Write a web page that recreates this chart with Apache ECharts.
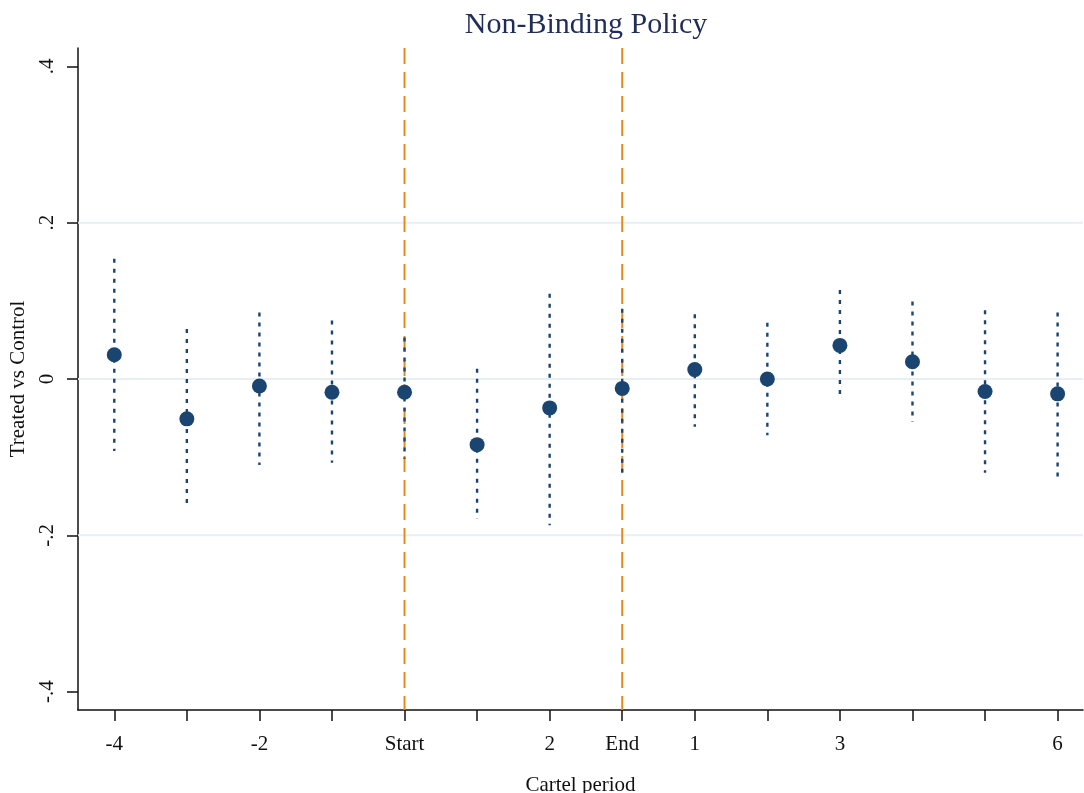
<!DOCTYPE html>
<html>
<head>
<meta charset="utf-8">
<script src="https://cdn.jsdelivr.net/npm/echarts@6/dist/echarts.min.js"></script>
<style>
  html, body { margin: 0; padding: 0; background: #fff; }
  #chart { width: 1084px; height: 793px; }
</style>
</head>
<body>
<div id="chart"></div>
<script>
// Event-study estimates by cartel period, with confidence bounds
const periodLabels = ['-4', '', '-2', '', 'Start', '', '2', 'End', '1', '', '3', '', '', '6'];
const estimates = [0.031, -0.051, -0.009, -0.017, -0.017, -0.084, -0.037, -0.012, 0.012, 0.000, 0.043, 0.022, -0.016, -0.019];
const ciLower   = [-0.092, -0.165, -0.110, -0.107, -0.102, -0.179, -0.187, -0.122, -0.061, -0.072, -0.027, -0.055, -0.120, -0.125];
const ciUpper   = [0.154, 0.064, 0.085, 0.075, 0.053, 0.013, 0.109, 0.090, 0.083, 0.072, 0.114, 0.099, 0.088, 0.085];
const yTicks = [-0.4, -0.2, 0, 0.2, 0.4];
const yGridValues = [-0.2, 0, 0.2];
const cartelBounds = [4, 7]; // positions of "Start" and "End"

const Y_MIN = -0.4235, Y_MAX = 0.4235;
const X_MIN = -0.5, X_MAX = 13.35;
const NAVY = '#1b4571';
const ORANGE = '#e8891c';
const SERIF = "'Liberation Serif', 'DejaVu Serif', serif";
const positions = periodLabels.map((_, i) => i);

function fmtY(v) {
  if (Math.abs(v) < 1e-9) return '0';
  return (v < 0 ? '-' : '') + String(Math.abs(v)).replace(/^0/, '');
}

const chart = echarts.init(document.getElementById('chart'), null, { renderer: 'canvas' });

chart.setOption({
  animation: false,
  backgroundColor: '#fff',
  title: {
    text: 'Non-Binding Policy',
    left: 581,
    top: 5,
    textAlign: 'center',
    textStyle: { fontFamily: SERIF, fontSize: 30, fontWeight: 'normal', color: '#1f2d57' }
  },
  grid: { left: 78, right: 1, top: 48, bottom: 83, outerBoundsMode: 'none', containLabel: false },
  xAxis: {
    type: 'value',
    min: X_MIN,
    max: X_MAX,
    name: 'Cartel period',
    nameLocation: 'middle',
    nameGap: 65,
    nameTextStyle: { fontFamily: SERIF, fontSize: 21, color: '#111' },
    axisLine: { show: true, onZero: false, lineStyle: { color: '#111', width: 1.5 } },
    axisTick: { show: true, customValues: positions, length: 11, lineStyle: { color: '#111', width: 1.5 } },
    axisLabel: {
      customValues: positions,
      formatter: v => periodLabels[Math.round(v)],
      margin: 24,
      fontFamily: SERIF, fontSize: 21, color: '#111'
    },
    splitLine: { show: false }
  },
  yAxis: {
    type: 'value',
    min: Y_MIN,
    max: Y_MAX,
    name: 'Treated vs Control',
    nameLocation: 'middle',
    nameGap: 43,
    nameTextStyle: { fontFamily: SERIF, fontSize: 21, color: '#111' },
    axisLine: { show: true, onZero: false, lineStyle: { color: '#111', width: 1.5 } },
    axisTick: { show: true, customValues: yTicks, length: 11, lineStyle: { color: '#111', width: 1.5 } },
    axisLabel: {
      customValues: yTicks,
      formatter: fmtY,
      rotate: 90,
      margin: 20,
      fontFamily: SERIF, fontSize: 21, color: '#111'
    },
    splitLine: { show: false }
  },
  series: [
    {
      // light horizontal reference lines
      type: 'custom',
      z: 1,
      silent: true,
      data: yGridValues.map(v => [v]),
      encode: { y: 0 },
      renderItem: (params, api) => {
        const a = api.coord([X_MIN, api.value(0)]);
        const b = api.coord([X_MAX, api.value(0)]);
        return { type: 'line', shape: { x1: a[0], y1: a[1], x2: b[0], y2: b[1] },
                 style: { stroke: '#e7eff1', lineWidth: 2 } };
      }
    },
    {
      // dashed lines marking cartel start and end
      type: 'custom',
      z: 2,
      silent: true,
      data: cartelBounds.map(x => [x]),
      encode: { x: 0 },
      renderItem: (params, api) => {
        const a = api.coord([api.value(0), Y_MAX]);
        const b = api.coord([api.value(0), Y_MIN]);
        return { type: 'line', shape: { x1: a[0], y1: a[1], x2: b[0], y2: b[1] },
                 style: { stroke: ORANGE, lineWidth: 2, lineDash: [16, 8] } };
      }
    },
    {
      // dotted confidence intervals
      type: 'custom',
      z: 3,
      silent: true,
      data: positions.map(i => [i, ciLower[i], ciUpper[i]]),
      encode: { x: 0, y: [1, 2] },
      renderItem: (params, api) => {
        const hi = api.coord([api.value(0), api.value(2)]);
        const lo = api.coord([api.value(0), api.value(1)]);
        return { type: 'line', shape: { x1: hi[0], y1: hi[1], x2: lo[0], y2: lo[1] },
                 style: { stroke: NAVY, lineWidth: 2.4, lineDash: [4, 6] } };
      }
    },
    {
      // point estimates
      type: 'scatter',
      z: 4,
      symbol: 'circle',
      symbolSize: 15,
      itemStyle: { color: NAVY, opacity: 1 },
      data: positions.map(i => [i, estimates[i]])
    }
  ]
});
</script>
</body>
</html>
